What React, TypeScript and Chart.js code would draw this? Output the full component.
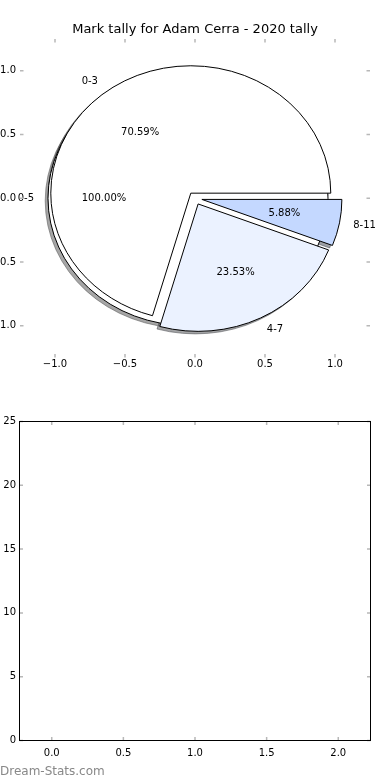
import { useEffect, useRef } from 'react';
import { Chart, registerables } from 'chart.js';

Chart.register(...registerables);

const FONT = "'DejaVu Sans', sans-serif";

const titleText = 'Mark tally for Adam Cerra - 2020 tally';

// first pie (drawn underneath)
const outerLabels = ['0-5'];
const outerValues = [17];
const outerColors = ['#ffffff'];
const outerExplode = [0.05];

// second pie (drawn on top)
const innerLabels = ['0-3', '4-7', '8-11'];
const innerValues = [12, 4, 1];
const innerColors = ['#ffffff', '#ebf2ff', '#c4d8ff'];
const innerExplode = [0.05, 0.05, 0.05];

const pieXTicks = [-1, -0.5, 0, 0.5, 1];
const pieYTicks = [-1, -0.5, 0, 0.5, 1];

const barLabels: number[] = [];
const barValues: number[] = [];
const barXTicks = [0, 0.5, 1, 1.5, 2];
const barYTicks = [0, 5, 10, 15, 20, 25];

const watermark = 'Dream-Stats.com';

type Wedge = {
  label: string;
  pct: string;
  color: string;
  cx: number;
  cy: number;
  t1: number;
  t2: number;
  mid: number;
};

function buildWedges(labels: string[], values: number[], colors: string[], explode: number[]): Wedge[] {
  const total = values.reduce((a, b) => a + b, 0);
  let t = 0;
  return values.map((v, i) => {
    const frac = v / total;
    const t1 = t;
    const t2 = t + frac * 360;
    t = t2;
    const mid = ((t1 + t2) / 2) * Math.PI / 180;
    const e = explode[i] || 0;
    return {
      label: labels[i],
      pct: (frac * 100).toFixed(2) + '%',
      color: colors[i],
      cx: e * Math.cos(mid),
      cy: e * Math.sin(mid),
      t1,
      t2,
      mid,
    };
  });
}

function hexToRgb(h: string) {
  const n = parseInt(h.slice(1), 16);
  return [(n >> 16) & 255, (n >> 8) & 255, n & 255];
}

function wedgePath(ctx: CanvasRenderingContext2D, xs: any, ys: any, cx: number, cy: number, t1: number, t2: number) {
  const px = xs.getPixelForValue(cx);
  const py = ys.getPixelForValue(cy);
  const rx = xs.getPixelForValue(cx + 1) - px;
  const ry = py - ys.getPixelForValue(cy + 1);
  ctx.beginPath();
  if (t2 - t1 >= 359.999) {
    ctx.ellipse(px, py, rx, ry, 0, 0, Math.PI * 2);
  } else {
    ctx.moveTo(px, py);
    ctx.ellipse(px, py, rx, ry, 0, -t1 * Math.PI / 180, -t2 * Math.PI / 180, true);
    ctx.closePath();
  }
}

const piePlugin = {
  id: 'mplPie',
  afterDatasetsDraw(chart: any) {
    const xs = chart.scales.x;
    const ys = chart.scales.y;
    const ctx: CanvasRenderingContext2D = chart.ctx;
    const all = [
      ...buildWedges(outerLabels, outerValues, outerColors, outerExplode),
      ...buildWedges(innerLabels, innerValues, innerColors, innerExplode),
    ];
    ctx.save();
    ctx.lineJoin = 'miter';
    // shadows
    for (const w of all) {
      const [r, g, b] = hexToRgb(w.color);
      const c = `rgba(${Math.round(r * 0.3)},${Math.round(g * 0.3)},${Math.round(b * 0.3)},0.5)`;
      wedgePath(ctx, xs, ys, w.cx - 0.02, w.cy - 0.02, w.t1, w.t2);
      ctx.fillStyle = c;
      ctx.fill();
      ctx.strokeStyle = c;
      ctx.lineWidth = 1;
      ctx.stroke();
    }
    // wedges
    for (const w of all) {
      wedgePath(ctx, xs, ys, w.cx, w.cy, w.t1, w.t2);
      ctx.fillStyle = w.color;
      ctx.fill();
      ctx.strokeStyle = '#000';
      ctx.lineWidth = 1;
      ctx.stroke();
    }
    // texts
    ctx.font = `10px ${FONT}`;
    ctx.fillStyle = '#000';
    ctx.textBaseline = 'middle';
    for (const w of all) {
      const lx = w.cx + 1.1 * Math.cos(w.mid);
      const ly = w.cy + 1.1 * Math.sin(w.mid);
      ctx.textAlign = lx > 0 ? 'left' : 'right';
      ctx.fillText(w.label, xs.getPixelForValue(lx), ys.getPixelForValue(ly));
      const qx = w.cx + 0.6 * Math.cos(w.mid);
      const qy = w.cy + 0.6 * Math.sin(w.mid);
      ctx.textAlign = 'center';
      ctx.fillText(w.pct, xs.getPixelForValue(qx), ys.getPixelForValue(qy));
    }
    ctx.restore();
  },
};

function innerTicks(frame: boolean) {
  return {
    id: 'innerTicks',
    afterDraw(chart: any) {
      const ctx: CanvasRenderingContext2D = chart.ctx;
      const a = chart.chartArea;
      const xs = chart.scales.x;
      const ys = chart.scales.y;
      const len = 3.5;
      ctx.save();
      ctx.strokeStyle = '#b8b8b8';
      ctx.lineWidth = 1.5;
      ctx.beginPath();
      for (const t of xs.ticks) {
        const p = xs.getPixelForValue(t.value);
        ctx.moveTo(p, a.top);
        ctx.lineTo(p, a.top + len);
        ctx.moveTo(p, a.bottom);
        ctx.lineTo(p, a.bottom - len);
      }
      for (const t of ys.ticks) {
        const p = ys.getPixelForValue(t.value);
        ctx.moveTo(a.left, p);
        ctx.lineTo(a.left + len, p);
        ctx.moveTo(a.right, p);
        ctx.lineTo(a.right - len, p);
      }
      ctx.stroke();
      if (frame) {
        ctx.strokeStyle = '#000';
        ctx.lineWidth = 1;
        ctx.strokeRect(a.left, a.top, a.right - a.left, a.bottom - a.top);
      }
      ctx.restore();
    },
  };
}

const fmt1 = (v: any) => {
  const n = Number(v);
  return (n < 0 ? '\u2212' : '') + Math.abs(n).toFixed(1);
};
const fmt0 = (v: any) => String(Number(v));

function axis(min: number, max: number, ticks: number[], fmt: (v: any) => string, padding: number, fit: (s: any) => void) {
  return {
    type: 'linear' as const,
    min,
    max,
    grid: { display: false, drawTicks: false },
    border: { display: false },
    ticks: {
      padding,
      color: '#000',
      font: { family: FONT, size: 10 },
      callback: fmt,
      autoSkip: false,
      maxRotation: 0,
      minRotation: 0,
    },
    afterBuildTicks: (s: any) => {
      s.ticks = ticks.map((v) => ({ value: v }));
    },
    afterFit: fit,
  };
}

export default function App() {
  const topRef = useRef<HTMLCanvasElement>(null);
  const botRef = useRef<HTMLCanvasElement>(null);

  useEffect(() => {
    const top = new Chart(topRef.current!, {
      type: 'scatter',
      data: { datasets: [{ data: [] }] },
      options: {
        animation: false,
        responsive: false,
        maintainAspectRatio: false,
        events: [],
        layout: { padding: { left: 0, right: 20, top: 0, bottom: 0 } },
        plugins: {
          legend: { display: false },
          tooltip: { enabled: false },
          title: {
            display: true,
            fullSize: false,
            text: titleText,
            color: '#000',
            font: { family: FONT, size: 13, weight: 'normal' },
            padding: { top: 22, bottom: 1.4 },
          },
        },
        scales: {
          x: axis(-1.25, 1.25, pieXTicks, fmt1, 1, (s: any) => { s.height = 22.5; }),
          y: axis(-1.25, 1.25, pieYTicks, fmt1, 4, (s: any) => { s.width = 60; }),
        },
      },
      plugins: [piePlugin, innerTicks(false)],
    } as any);

    const bot = new Chart(botRef.current!, {
      type: 'scatter',
      data: {
        datasets: [{ data: barLabels.map((x, i) => ({ x, y: barValues[i] })) }],
      },
      options: {
        animation: false,
        responsive: false,
        maintainAspectRatio: false,
        events: [],
        layout: { padding: { left: 0, right: 19.5, top: 41.5, bottom: 0 } },
        plugins: {
          legend: { display: false },
          tooltip: { enabled: false },
        },
        scales: {
          x: axis(-0.225, 2.225, barXTicks, fmt1, 6.5, (s: any) => { s.height = 39.5; }),
          y: axis(0, 25, barYTicks, fmt0, 3.5, (s: any) => { s.width = 59.5; }),
        },
      },
      plugins: [innerTicks(true)],
    } as any);

    return () => {
      top.destroy();
      bot.destroy();
    };
  }, []);

  return (
    <div
      style={{
        position: 'fixed',
        left: 0,
        top: 0,
        width: 390,
        height: 780,
        overflow: 'hidden',
        background: '#fff',
      }}
    >
      <canvas
        ref={topRef}
        width={430}
        height={380}
        style={{ position: 'absolute', left: -40, top: 0, width: 430, height: 380 }}
      />
      <canvas
        ref={botRef}
        width={430}
        height={400}
        style={{ position: 'absolute', left: -40, top: 380, width: 430, height: 400 }}
      />
      <div
        style={{
          position: 'absolute',
          left: 0,
          top: 764,
          font: `12px ${FONT}`,
          lineHeight: '14px',
          color: '#888',
          whiteSpace: 'nowrap',
        }}
      >
        {watermark}
      </div>
    </div>
  );
}
